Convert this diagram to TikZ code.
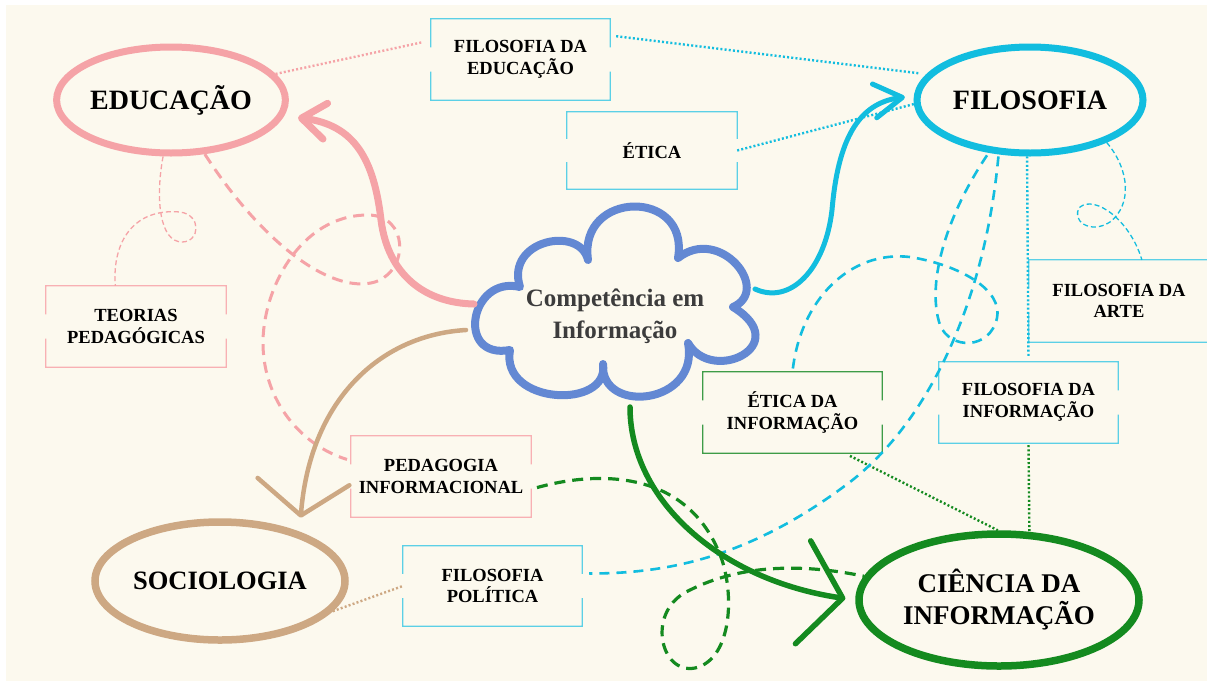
\documentclass[tikz,border=0pt]{standalone}
\usepackage{fontspec}
\setmainfont{Liberation Serif}
\usetikzlibrary{arrows.meta,calc,shapes.geometric}
\definecolor{bg}{HTML}{FCF9EE}
\definecolor{pk}{HTML}{F5A3A7}
\definecolor{pkl}{HTML}{F8B0B3}
\definecolor{cy}{HTML}{12BDDF}
\definecolor{cyl}{HTML}{5BD0E6}
\definecolor{tn}{HTML}{CDA883}
\definecolor{gr}{HTML}{148A1F}
\definecolor{grl}{HTML}{3E9C47}
\definecolor{cl}{HTML}{6388D3}
\definecolor{txg}{HTML}{3C3C3C}
\tikzset{
  ell/.style={ellipse, inner sep=0pt, align=center, fill=bg, text=black,
    font=\fontsize{28}{32}\selectfont\bfseries},
  boxn/.style={rectangle, inner sep=0pt, align=center, text=black,
    font=\fontsize{18.5}{21.5}\selectfont\bfseries},
  dashP/.style={dash pattern=on 11pt off 7pt, line width=3pt},
  dashC/.style={dash pattern=on 10pt off 7pt, line width=2.6pt},
  dashG/.style={dash pattern=on 11pt off 7pt, line width=3.2pt},
  dashT/.style={dash pattern=on 5pt off 3pt, line width=1.3pt},
  dotl/.style={dash pattern=on 2pt off 2.2pt, line width=2.4pt},
}
\begin{document}
\begin{tikzpicture}[x=1pt,y=-1pt]
\useasboundingbox (0,0) rectangle (1207,681);
\fill[white] (0,0) rectangle (1207,681);
\fill[bg] (6,5) rectangle (1207,681);

% ellipses
\node[ell, draw=pk, line width=7pt, minimum width=226pt, minimum height=106pt] (edu) at (171,100) {EDUCAÇÃO};
\node[ell, draw=cy, line width=7pt, minimum width=226pt, minimum height=106pt] (fil) at (1030,100) {FILOSOFIA};
\node[ell, draw=tn, line width=7.5pt, minimum width=250pt, minimum height=118pt, font=\fontsize{26.5}{32}\selectfont\bfseries] (soc) at (220,581) {SOCIOLOGIA};
\node[ell, draw=gr, line width=7.5pt, minimum width=280pt, minimum height=132pt, font=\fontsize{27}{32}\selectfont\bfseries] (cin) at (999,600) {CIÊNCIA DA\\INFORMAÇÃO};

% boxes (text)
\node[boxn, minimum width=179pt, minimum height=81pt] (fde) at (520.5,59.5) {FILOSOFIA DA\\EDUCAÇÃO};
\node[boxn, minimum width=170pt, minimum height=77pt] (eti) at (652,150.5) {ÉTICA};
\node[boxn, minimum width=180pt, minimum height=82pt] (art) at (1119,301) {FILOSOFIA DA\\ARTE};
\node[boxn, minimum width=179pt, minimum height=81pt] (fdi) at (1028.5,402.5) {FILOSOFIA DA\\INFORMAÇÃO};
\node[boxn, minimum width=179pt, minimum height=81pt] (etin) at (792.5,412.5) {ÉTICA DA\\INFORMAÇÃO};
\node[boxn, minimum width=180pt, minimum height=81pt] (teo) at (136,326.5) {TEORIAS\\PEDAGÓGICAS};
\node[boxn, minimum width=180pt, minimum height=81pt] (ped) at (441,476.5) {PEDAGOGIA\\INFORMACIONAL};
\node[boxn, minimum width=179pt, minimum height=80pt] (fpo) at (492.5,586) {FILOSOFIA\\POLÍTICA};

% box frames with side gaps
\foreach \n/\c in {fde/cyl,eti/cyl,art/cyl,fdi/cyl,fpo/cyl,etin/grl,teo/pkl,ped/pkl}{
  \draw[\c, line width=1.3pt]
    ($(\n.north west)!0.35!(\n.south west)$) |- (\n.north east) -- ($(\n.north east)!0.35!(\n.south east)$)
    ($(\n.north west)!0.65!(\n.south west)$) |- (\n.south east) -- ($(\n.north east)!0.65!(\n.south east)$);
}

% cloud
\draw[cl, line width=8pt, line join=round, fill=bg]
  (510,350) .. controls (500,405) and (610,410) .. (603,364)
  .. controls (600,415) and (700,405) .. (688,343)
  .. controls (712,385) and (795,345) .. (733,307)
  .. controls (772,290) and (720,225) .. (678,258)
  .. controls (690,188) and (578,190) .. (588,260)
  .. controls (580,225) and (505,240) .. (520,287)
  .. controls (470,275) and (455,360) .. cycle;
\node[align=center, text=txg, font=\fontsize{25}{32}\selectfont\bfseries] (ci) at (615,316) {Competência em\\Informação};
\coordinate (cp) at (474,304);
\coordinate (ct) at (466,330);
\coordinate (cc) at (755,289);
\coordinate (cg) at (630,407);

% dotted links
\draw[pk, dotl, shorten >=9pt] (edu.14) -- (fde.168);
\draw[cy, dotl, shorten <=6pt, shorten >=8pt] (fde.15) -- (fil.166);
\draw[cy, dotl] (eti.east) -- (fil.182);
\draw[cy, dotl, shorten >=5pt] (fil.-93) -- (fdi.north);
\draw[tn, dotl] (soc.-15) -- (fpo.west);
\draw[gr, dotl, shorten <=6pt] (etin.-38) -- (cin.91);
\draw[gr, dotl, shorten <=2pt] (fdi.south) -- (cin.66);

% dashed curves
\draw[pk, dashP, shorten >=4pt] (edu.-58) .. controls (260,240) and (330,295) .. (375,282)
  .. controls (410,270) and (408,215) .. (368,215)
  .. controls (300,215) and (262,290) .. (263,345)
  .. controls (264,400) and (300,445) .. (ped.170);
\draw[pk, dashT] (edu.-98) .. controls (155,200) and (160,242) .. (182,242)
  .. controls (200,242) and (202,215) .. (180,212)
  .. controls (135,208) and (112,240) .. (teo.117);
\draw[cy, dashT] (fil.-29) .. controls (1130,170) and (1132,205) .. (1110,222)
  .. controls (1090,235) and (1070,220) .. (1080,207)
  .. controls (1095,195) and (1130,220) .. (art.61);
\draw[cy, dashC, shorten <=2pt, shorten >=7pt] (fil.-120) .. controls (985,300) and (930,420) .. (850,482)
  .. controls (760,550) and (680,574) .. (fpo.8);
\draw[cy, dashC, shorten <=3pt] (fil.-128) .. controls (950,210) and (925,280) .. (940,325)
  .. controls (950,350) and (990,350) .. (997,318)
  .. controls (1003,290) and (960,265) .. (910,257)
  .. controls (850,250) and (800,300) .. (etin.north);
\draw[gr, dashG, shorten <=6pt] (ped.-8) .. controls (600,470) and (690,470) .. (722,560)
  .. controls (735,600) and (730,660) .. (695,668)
  .. controls (660,675) and (645,610) .. (690,590)
  .. controls (740,565) and (800,563) .. (cin.170);

% main arrows
\draw[pk, line width=7pt, line cap=round, -{Straight Barb[length=24pt,width=36pt,round]}, shorten >=14pt]
  (cp) .. controls (425,303) and (388,275) .. (381,220) .. controls (374,160) and (355,125) .. (edu.-8);
\draw[tn, line width=4.5pt, line cap=round, -{Straight Barb[length=34pt,width=92pt,round]}]
  (ct) .. controls (380,335) and (310,400) .. ($(soc.40)+(16,-9)$);
\draw[cy, line width=5pt, line cap=round, -{Straight Barb[length=28pt,width=34pt,round]}, shorten >=9pt]
  (cc) .. controls (790,305) and (825,270) .. (832,210) .. controls (838,140) and (858,103) .. (fil.178);
\draw[gr, line width=5.5pt, line cap=round, -{Straight Barb[length=40pt,width=104pt,round]}, shorten >=10pt]
  (cg) .. controls (630,500) and (720,580) .. (cin.180);
\end{tikzpicture}
\end{document}
